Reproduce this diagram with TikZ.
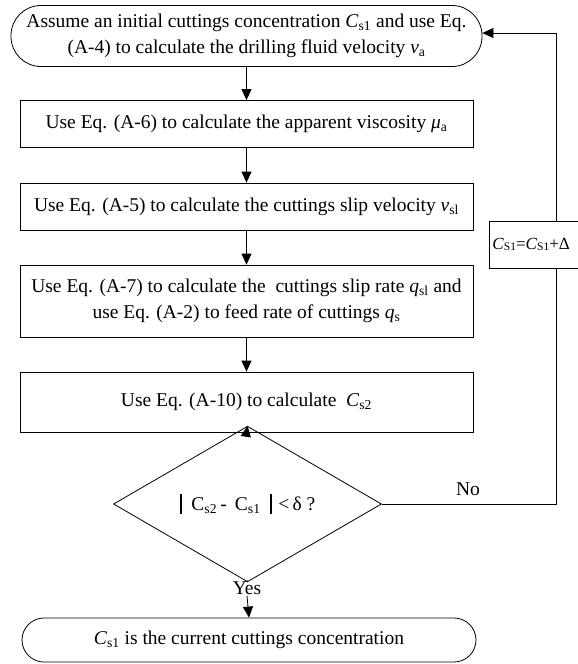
\documentclass[tikz,border=0pt]{standalone}
\usepackage{fontspec}
\setmainfont{Liberation Serif}
\usetikzlibrary{shapes.geometric,arrows.meta}

\begin{document}
\begin{tikzpicture}[x=1pt, y=-1pt,
  every node/.style={font=\fontsize{19.5}{26}\selectfont},
  stepbox/.style={draw, line width=0.8pt, minimum width=453pt, inner sep=0pt, align=center},
  endbox/.style={draw, line width=0.8pt, inner sep=0pt, align=center},
  check/.style={draw, diamond, line width=0.8pt, minimum width=268pt, minimum height=82pt, inner sep=0pt},
  flow/.style={line width=0.8pt, -{Triangle[length=11pt,width=10pt]}},
  link/.style={line width=0.8pt}]

\useasboundingbox (0,0) rectangle (578,664);
\clip (0,0) rectangle (578,664);

% Start: initial guess
\node[endbox, rounded corners=30pt, minimum width=471pt, minimum height=61pt] (start) at (246.5,36)
  {Assume an initial cuttings concentration \textit{C}\textsubscript{s1} and use Eq.\\
   (A-4) to calculate the drilling fluid velocity \textit{v}\textsubscript{a}};

% Steps
\node[stepbox, minimum height=47pt] (visc) at (246.5,124)
  {Use Eq. (A-6) to calculate the apparent viscosity \textit{μ}\textsubscript{a}};
\node[stepbox, minimum height=47pt] (slip) at (246.5,206.5)
  {Use Eq. (A-5) to calculate the cuttings slip velocity \textit{v}\textsubscript{sl}};
\node[stepbox, minimum height=72pt] (rate) at (246.5,301)
  {Use Eq. (A-7) to calculate the \ cuttings slip rate \textit{q}\textsubscript{sl} and\\
   use Eq. (A-2) to feed rate of cuttings \textit{q}\textsubscript{s}};
\node[stepbox, minimum height=60pt] (conc) at (246.5,402)
  {Use Eq. (A-10) to calculate \ \textit{C}\textsubscript{s2}};

% Convergence check
\node[check] (dec) at (247.5,504)
  {\rule[-4pt]{2pt}{20pt}\ \ C\textsubscript{s2}\,- \,C\textsubscript{s1}\ \ \rule[-4pt]{2pt}{20pt}\hspace{6pt}<\,δ ?};

% Update box on the loop back (runs past the right edge)
\node[draw, line width=0.8pt, anchor=west, minimum height=47pt, inner sep=3pt, text width=90pt, align=left,
  font=\fontsize{17}{20}\selectfont] (upd) at (489,244.5)
  {\textit{C}\raisebox{-1pt}{\fontsize{11.5}{12}\selectfont S1}=\textit{C}\raisebox{-1pt}{\fontsize{11.5}{12}\selectfont S1}+Δ};
\coordinate (turn) at (556,33);

% Labels
\node (no) at (468,489) {No};
\node[inner sep=1pt] (yes) at (247,588) {Yes};

% End
\node[endbox, rounded corners=22pt, minimum width=454pt, minimum height=44pt] (result) at (249,640)
  {\textit{C}\textsubscript{s1} is the current cuttings concentration};

% Arrows
\draw[flow] (start.south) -- (visc.north);
\draw[flow] (visc.south) -- (slip.north);
\draw[flow] (slip.south) -- (rate.north);
\draw[flow] (rate.south) -- (conc.north);
\draw[flow] (conc.south) -- (dec.north);
\draw[link] (dec.east) -- (dec.east -| turn) -- (upd.south -| turn);
\draw[flow] (upd.north -| turn) -- (turn) -- (start.east |- turn);
\draw[link] (dec.south) -- (yes.north);
\draw[flow] (yes.south) -- (result.north);

\end{tikzpicture}
\end{document}
